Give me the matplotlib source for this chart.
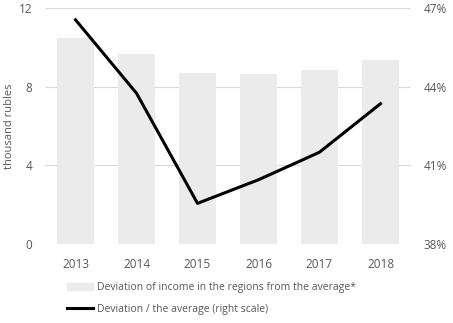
import numpy as np
import matplotlib.pyplot as plt
from matplotlib.patches import Patch
from matplotlib.lines import Line2D

# Data
years = ['2013', '2014', '2015', '2016', '2017', '2018']
deviation = [10.5, 9.65, 8.7, 8.65, 8.85, 9.35]          # thousand rubles
deviation_share = [46.55, 43.75, 39.55, 40.45, 41.5, 43.35]  # percent of average

plt.rcParams['font.family'] = ['Open Sans', 'DejaVu Sans']
txt = '#595959'

fig = plt.figure(figsize=(4.53, 3.23), dpi=100)
ax = fig.add_axes([45/453, 1 - 244/323, 366/453, 236/323])
x = np.arange(len(years))

ax.bar(x, deviation, width=0.62, color='#ebebeb', zorder=2)
ax.set_ylim(0, 12)
ax.set_yticks([0, 4, 8, 12])
ax.set_xlim(-0.5, 5.5)
ax.set_xticks(x)
ax.set_xticklabels(years)
ax.grid(axis='y', color='#d9d9d9', linewidth=0.8, zorder=0)
ax.set_axisbelow(True)
ax.set_ylabel('thousand rubles', color=txt, fontsize=8)
ax.yaxis.set_label_coords(-0.082, 0.5)

ax2 = ax.twinx()
ax2.plot(x, deviation_share, color='black', linewidth=2.2, zorder=3)
ax2.set_ylim(38, 47)
ax2.set_yticks([38, 41, 44, 47])
ax2.set_yticklabels([f'{v}%' for v in [38, 41, 44, 47]])

for a in (ax, ax2):
    for s in a.spines.values():
        s.set_visible(False)
    a.tick_params(length=0, labelsize=8.5, labelcolor=txt)
ax.tick_params(axis='y', pad=9)
ax.tick_params(axis='x', pad=10)
ax2.tick_params(axis='y', pad=9)

handles = [Patch(color='#ebebeb'),
           Line2D([0], [0], color='black', linewidth=2.2)]
labels = ['Deviation of income in the regions from the average*',
          'Deviation / the average (right scale)']
fig.legend(handles, labels, loc='upper left', bbox_to_anchor=(58/453, 1 - 273/323),
           frameon=False, fontsize=7.5, labelcolor=txt, handlelength=2.5,
           handletextpad=0.3, labelspacing=1.0)

fig.savefig('out.png', dpi=100)
